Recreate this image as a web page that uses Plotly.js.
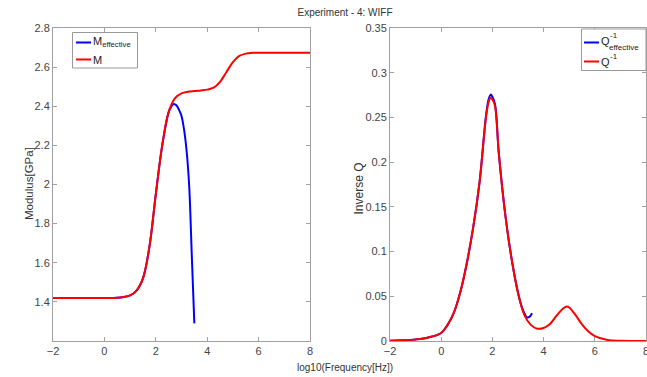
<!DOCTYPE html>
<html>
<head>
<meta charset="utf-8">
<script src="https://cdn.plot.ly/plotly-3.0.1.min.js"></script>
<style>html,body{margin:0;padding:0;background:#fff;}#chart{width:647px;height:377px;}</style>
</head>
<body>
<div id="chart"></div>
<script>
// ---- Data ----
const chartTitle = "Experiment - 4: WIFF";
const xLabel = "log10(Frequency[Hz])";
const yLabelLeft = "Modulus[GPa]";
const yLabelRight = "Inverse Q";

const freqM = [-2,-1,0,0.5,0.75,1,1.25,1.5,1.75,2,2.25,2.5,2.75,3,3.25,3.5,3.75,4,4.25,4.5,4.75,5,5.25,5.5,5.75,6,7,8];
const modulusM = [1.42,1.42,1.42,1.421,1.425,1.433,1.458,1.52,1.68,1.95,2.2,2.37,2.442,2.466,2.474,2.478,2.481,2.485,2.495,2.525,2.575,2.625,2.657,2.669,2.673,2.674,2.674,2.674];

const freqMeff = [-2,-1,0,0.5,0.75,1,1.25,1.5,1.75,2,2.25,2.5,2.6,2.7,2.8,2.9,3,3.1,3.2,3.3,3.4,3.5];
const modulusMeff = [1.42,1.42,1.42,1.421,1.425,1.433,1.458,1.52,1.68,1.95,2.2,2.37,2.398,2.412,2.405,2.383,2.35,2.28,2.17,1.99,1.64,1.29];

const freqQ = [-2,-1.5,-1,-0.5,0,0.25,0.5,0.75,1,1.25,1.5,1.75,1.85,1.93,2,2.1,2.25,2.5,2.75,3,3.25,3.5,3.75,4,4.25,4.5,4.75,4.9,5,5.25,5.5,5.75,6,6.5,7,8];
const invQ = [0.0003,0.0008,0.0018,0.004,0.009,0.018,0.032,0.055,0.087,0.127,0.178,0.25,0.267,0.272,0.27,0.263,0.21,0.142,0.092,0.054,0.029,0.018,0.0138,0.0145,0.019,0.028,0.036,0.0387,0.0375,0.029,0.0185,0.0105,0.0055,0.0012,0.0003,0];

const freqQeff = [-2,-1.5,-1,-0.5,0,0.25,0.5,0.75,1,1.25,1.5,1.75,1.85,1.93,2,2.1,2.25,2.5,2.75,3,3.15,3.25,3.35,3.45,3.55];
const invQeff = [0.0003,0.0008,0.0018,0.004,0.009,0.018,0.032,0.055,0.087,0.127,0.178,0.252,0.27,0.2755,0.273,0.265,0.21,0.142,0.092,0.054,0.038,0.031,0.0265,0.027,0.031];

const xTicks = [-2,0,2,4,6,8];
const yTicksLeft = [1.4,1.6,1.8,2.0,2.2,2.4,2.6,2.8];
const yTickTextLeft = ["1.4","1.6","1.8","2","2.2","2.4","2.6","2.8"];
const yTicksRight = [0,0.05,0.1,0.15,0.2,0.25,0.3,0.35];
const yTickTextRight = ["0","0.05","0.1","0.15","0.2","0.25","0.3","0.35"];

// ---- Styling ----
const BLUE = "#0000ff", RED = "#ff0000";
const FONT = "Liberation Sans, Arial, sans-serif";
const TXT = "#333";
const LW = 2;

const traces = [
  {x: freqMeff, y: modulusMeff, type: "scatter", mode: "lines", name: "M effective",
   line: {color: BLUE, width: LW, shape: "spline", smoothing: 1}, xaxis: "x", yaxis: "y", showlegend: false},
  {x: freqM, y: modulusM, type: "scatter", mode: "lines", name: "M",
   line: {color: RED, width: LW, shape: "spline", smoothing: 1}, xaxis: "x", yaxis: "y", showlegend: false},
  {x: freqQeff, y: invQeff, type: "scatter", mode: "lines", name: "Q-1 effective",
   line: {color: BLUE, width: LW, shape: "spline", smoothing: 1}, xaxis: "x2", yaxis: "y2", showlegend: false},
  {x: freqQ, y: invQ, type: "scatter", mode: "lines", name: "Q-1",
   line: {color: RED, width: LW, shape: "spline", smoothing: 1}, xaxis: "x2", yaxis: "y2", showlegend: false}
];

const axCommon = {
  showgrid: false, zeroline: false, showline: true, mirror: "ticks",
  linecolor: "#a0a0a0", linewidth: 1, ticks: "inside", ticklen: 4, tickcolor: "#a0a0a0",
  ticklabeloverflow: "allow",
  tickfont: {family: FONT, size: 11, color: "#444"}
};

const L = 53, R = 1, T = 28, B = 36, W = 647, H = 377;
const pw = W - L - R, ph = H - T - B;
const px = v => (v - L) / pw;          // pixel x -> paper fraction
const py = v => (H - B - v) / ph;      // pixel y -> paper fraction

// manual MATLAB-style legends (boxes, swatches, labels)
function legendBox(x0, y0, x1, y1) {
  return {type: "rect", xref: "paper", yref: "paper", x0: px(x0), x1: px(x1), y0: py(y1), y1: py(y0),
          line: {color: "#999", width: 1}, fillcolor: "#fff", layer: "above"};
}
function swatch(x0, x1, y, color) {
  return {type: "line", xref: "paper", yref: "paper", x0: px(x0), x1: px(x1), y0: py(y), y1: py(y),
          line: {color: color, width: 2}, layer: "above"};
}
function label(text, x, y, size) {
  return {text: text, xref: "paper", yref: "paper", x: px(x), y: py(y), xanchor: "left", yanchor: "middle",
          showarrow: false, font: {family: FONT, size: size, color: "#222"}};
}

const layout = {
  width: W, height: H,
  margin: {l: L, r: R, t: T, b: B, pad: 0},
  paper_bgcolor: "#fff", plot_bgcolor: "#fff",
  font: {family: FONT, size: 10, color: TXT},
  title: {text: chartTitle, x: 345 / W, xref: "container", xanchor: "center",
          y: 1 - 12 / H, yref: "container", yanchor: "middle",
          font: {family: FONT, size: 10, color: TXT}},
  showlegend: false,
  xaxis: Object.assign({}, axCommon, {domain: [0, px(310)], range: [-2, 8], tickvals: xTicks, anchor: "y"}),
  yaxis: Object.assign({}, axCommon, {domain: [0, 1], range: [1.2, 2.8], tickvals: yTicksLeft, ticktext: yTickTextLeft, anchor: "x"}),
  xaxis2: Object.assign({}, axCommon, {domain: [px(390), 1], range: [-2, 8], tickvals: xTicks, anchor: "y2"}),
  yaxis2: Object.assign({}, axCommon, {domain: [0, 1], range: [0, 0.35], tickvals: yTicksRight, ticktext: yTickTextRight, anchor: "x2"}),
  shapes: [
    legendBox(72.5, 32.5, 137.5, 68),
    swatch(76, 91, 42.5, BLUE),
    swatch(76, 91, 59.5, RED),
    legendBox(581.5, 29, 646, 70.5),
    swatch(584, 599, 42.5, BLUE),
    swatch(584, 599, 61.5, RED)
  ],
  annotations: [
    {text: xLabel, xref: "paper", yref: "paper", x: px(345), y: py(367),
     xanchor: "center", yanchor: "middle", showarrow: false, font: {family: FONT, size: 10, color: TXT}},
    {text: yLabelLeft, xref: "paper", yref: "paper", x: px(29), y: py(184), textangle: -90,
     xanchor: "center", yanchor: "middle", showarrow: false, font: {family: FONT, size: 11.5, color: TXT}},
    {text: yLabelRight, xref: "paper", yref: "paper", x: px(358.5), y: py(189), textangle: -90,
     xanchor: "center", yanchor: "middle", showarrow: false, font: {family: FONT, size: 12, color: TXT}},
    label("M<sub>effective</sub>", 91, 42, 11),
    label("M", 91, 59.5, 11),
    label("Q", 598.5, 41, 11),
    label("-1", 607.5, 35.5, 8),
    label("effective", 607, 47.5, 8),
    label("Q", 598.5, 61.5, 11),
    label("-1", 607.5, 56, 8)
  ]
};

Plotly.newPlot("chart", traces, layout, {displayModeBar: false, staticPlot: true});
</script>
</body>
</html>
